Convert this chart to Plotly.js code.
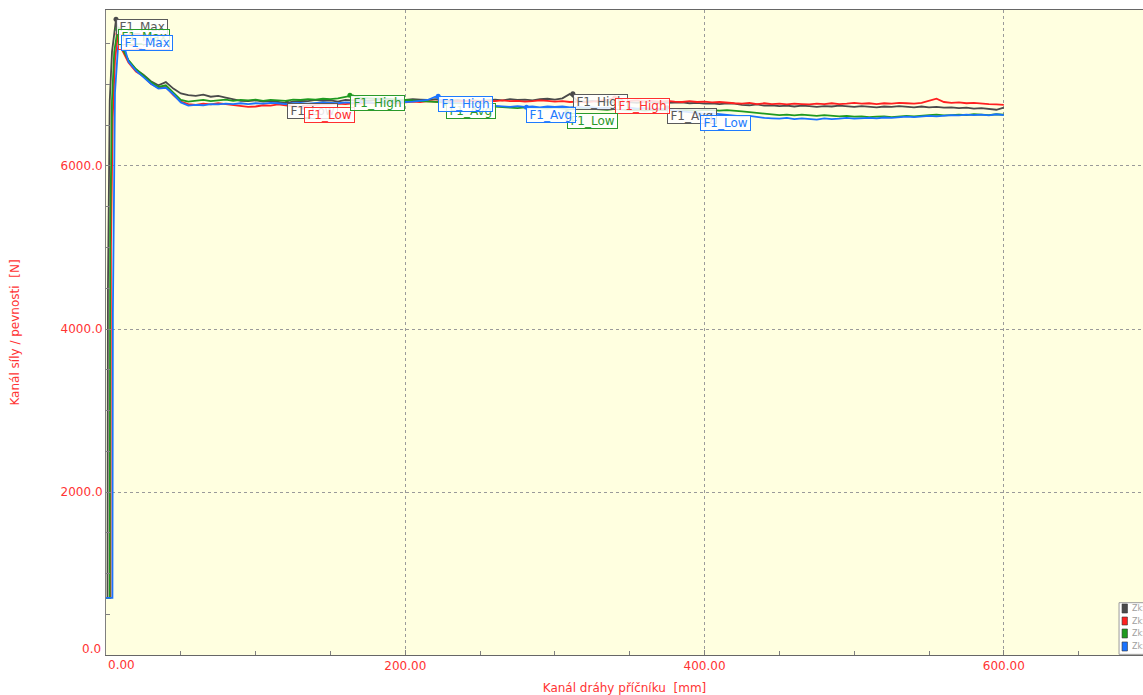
<!DOCTYPE html>
<html>
<head>
<meta charset="utf-8">
<script src="https://cdn.plot.ly/plotly-3.0.1.min.js"></script>
<style>
html,body{margin:0;padding:0;background:#fff;overflow:hidden;}
#chart{width:1143px;height:695px;}
</style>
</head>
<body>
<div id="chart"></div>
<script>
// ---- data ----
const xTicks = [0, 200, 400, 600];
const xTickText = ['', '200.00', '400.00', '600.00'];
const yTicks = [0, 2000, 4000, 6000];
const yTickText = ['', '2000.0', '4000.0', '6000.0'];

const xTail = [10,15,20,25,30,35,40,45,50,55,60,65,70,75,80,85,90,95,100,105,110,115,120,125,130,135,140,145,150,155,160,165,170,175,180,185,190,195,200,205,210,215,220,225,230,235,240,245,250,255,260,265,270,275,280,285,290,295,300,305,310,315,320,325,330,335,340,345,350,355,360,365,370,375,380,385,390,395,400,405,410,415,420,425,430,435,440,445,450,455,460,465,470,475,480,485,490,495,500,505,510,515,520,525,530,535,540,545,550,555,560,565,570,575,580,585,590,595,600];

const grayHeadX = [0, 1.0, 1.3, 2.5, 4.0, 6.7];
const grayHeadY = [700, 700, 4500, 6800, 7400, 7800];
const grayTail = [
7480,7290,7180,7120,7040,6990,7030,6950,6890,6870,
6860,6875,6850,6860,6840,6820,6800,6795,6805,6790,
6800,6785,6770,6790,6800,6795,6810,6800,6805,6790,
6810,6805,6815,6800,6810,6820,6805,6815,6810,6820,
6815,6810,6820,6805,6800,6810,6795,6805,6800,6810,
6815,6805,6820,6810,6815,6805,6820,6825,6815,6830,
6885,6800,6790,6800,6785,6790,6780,6790,6785,6775,
6790,6780,6770,6775,6775,6780,6770,6775,6765,6770,
6760,6770,6765,6750,6745,6755,6740,6745,6735,6740,
6730,6740,6735,6725,6735,6730,6740,6730,6725,6735,
6730,6720,6730,6725,6735,6725,6720,6730,6720,6725,
6715,6720,6710,6715,6705,6710,6700,6690,6715];

const redHeadX = [0, 3.0, 3.3, 4.5, 6.0, 8.0];
const redHeadY = [700, 700, 5000, 6600, 7300, 7620];
const redTail = [
7450,7270,7160,7100,7010,6960,6970,6870,6790,6760,
6750,6765,6755,6770,6760,6750,6740,6725,6730,6745,
6740,6755,6745,6735,6720,6740,6750,6760,6755,6765,
6760,6770,6765,6775,6770,6780,6775,6770,6780,6790,
6785,6795,6790,6795,6785,6790,6800,6795,6790,6800,
6795,6805,6795,6800,6790,6795,6805,6800,6790,6795,
6785,6790,6780,6790,6800,6810,6835,6810,6800,6805,
6795,6800,6790,6800,6790,6785,6795,6785,6790,6780,
6785,6775,6770,6765,6775,6760,6770,6760,6765,6755,
6765,6760,6755,6765,6760,6770,6760,6765,6775,6765,
6770,6760,6770,6765,6775,6770,6765,6775,6800,6825,
6785,6775,6780,6770,6775,6765,6760,6755,6750];

const greenHeadX = [0, 2.5, 2.8, 4.0, 5.5, 7.8];
const greenHeadY = [700, 700, 5200, 6800, 7400, 7680];
const greenTail = [
7470,7300,7190,7110,7030,6970,6990,6900,6810,6790,
6800,6810,6795,6805,6815,6800,6810,6805,6815,6800,
6810,6805,6800,6815,6810,6820,6815,6825,6820,6830,
6845,6865,6835,6830,6825,6830,6820,6815,6810,6805,
6800,6795,6790,6780,6770,6765,6760,6755,6745,6740,
6730,6720,6715,6710,6720,6715,6710,6705,6715,6705,
6695,6700,6710,6700,6695,6690,6700,6690,6685,6690,
6680,6690,6685,6690,6680,6690,6685,6680,6690,6685,
6680,6685,6680,6670,6660,6650,6640,6635,6625,6630,
6620,6630,6625,6615,6625,6620,6610,6615,6605,6610,
6600,6605,6610,6600,6605,6615,6610,6620,6625,6630,
6620,6625,6630,6625,6635,6630,6625,6635,6630];

const blueHeadX = [0, 4.3, 4.6, 6.0, 8.0];
const blueHeadY = [700, 700, 4200, 6900, 7450];
const blueTail = [
7610,7280,7170,7090,7010,6950,6960,6880,6780,6740,
6750,6745,6760,6755,6765,6760,6770,6760,6770,6765,
6775,6770,6760,6770,6775,6765,6770,6780,6775,6770,
6780,6775,6785,6780,6775,6785,6780,6790,6785,6790,
6800,6810,6850,6790,6780,6775,6765,6760,6750,6745,
6735,6730,6725,6735,6725,6730,6720,6730,6725,6730,
6720,6725,6715,6720,6710,6715,6710,6705,6715,6705,
6710,6700,6705,6690,6680,6670,6660,6650,6640,6645,
6635,6630,6620,6610,6615,6600,6590,6585,6580,6590,
6575,6585,6580,6570,6585,6575,6580,6590,6580,6585,
6590,6585,6595,6590,6600,6605,6600,6610,6615,6610,
6620,6625,6620,6630,6625,6630,6620,6635,6625];

// marked points (F1 labels) per series
const grayMarkX = [6.7, 121, 312, 375];
const grayMarkY = [7800, 6770, 6885, 6715];
const grayMarkT = ['F1_Max', 'F1_Low', 'F1_High', 'F1_Avg'];
const redMarkX = [8.0, 132, 340];
const redMarkY = [7620, 6720, 6835];
const redMarkT = ['F1_Max', 'F1_Low', 'F1_High'];
const greenMarkX = [7.8, 163, 227, 308];
const greenMarkY = [7680, 6868, 6770, 6655];
const greenMarkT = ['F1_Max', 'F1_High', 'F1_Avg', 'F1_Low'];
const blueMarkX = [10, 222, 281, 397];
const blueMarkY = [7612, 6855, 6722, 6630];
const blueMarkT = ['F1_Max', 'F1_High', 'F1_Avg', 'F1_Low'];

const legendNames = ['Zk: 1', 'Zk: 2', 'Zk: 3', 'Zk: 4'];

// ---- styling ----
const FONT = 'DejaVu Sans, Verdana, sans-serif';
const RED_TXT = '#ff3333';
const series = [
  {name: legendNames[0], hx: grayHeadX, hy: grayHeadY, ty: grayTail, line: '#4a4a4a', txt: '#5a5a5a', mx: grayMarkX, my: grayMarkY, mt: grayMarkT},
  {name: legendNames[1], hx: redHeadX, hy: redHeadY, ty: redTail, line: '#ff2020', txt: '#ff3030', mx: redMarkX, my: redMarkY, mt: redMarkT},
  {name: legendNames[2], hx: greenHeadX, hy: greenHeadY, ty: greenTail, line: '#1f9a1f', txt: '#2a9a2a', mx: greenMarkX, my: greenMarkY, mt: greenMarkT},
  {name: legendNames[3], hx: blueHeadX, hy: blueHeadY, ty: blueTail, line: '#1a73ff', txt: '#1e7bff', mx: blueMarkX, my: blueMarkY, mt: blueMarkT}
];

const traces = [];
const annotations = [];
series.forEach(s => {
  traces.push({
    type: 'scatter', mode: 'lines', name: s.name,
    x: s.hx.concat(xTail), y: s.hy.concat(s.ty),
    line: {color: s.line, width: 1.8}, hoverinfo: 'skip'
  });
  traces.push({
    type: 'scatter', mode: 'markers', showlegend: false,
    x: s.mx, y: s.my, marker: {color: s.line, size: 5}, hoverinfo: 'skip'
  });
});
series.forEach(s => {
  s.mx.forEach((xv, i) => {
    annotations.push({
      x: xv, y: s.my[i], xref: 'x', yref: 'y',
      text: '\u2009' + s.mt[i] + '\u2009', showarrow: false,
      xanchor: 'left', yanchor: 'top',
      font: {family: FONT, size: 12, color: s.txt},
      bgcolor: 'rgba(255,255,255,0.85)', bordercolor: s.txt, borderwidth: 1, borderpad: 0
    });
  });
});

// zero labels (shifted inside like the reference)
annotations.push({x: 0, y: 0, xref: 'x', yref: 'paper', text: '0.00', showarrow: false,
  xanchor: 'left', yanchor: 'top', yshift: -1, xshift: 0, font: {family: FONT, size: 12, color: RED_TXT}});
annotations.push({x: 0, y: 0, xref: 'paper', yref: 'paper', text: '0.0', showarrow: false,
  xanchor: 'right', yanchor: 'bottom', xshift: -3, yshift: -3, font: {family: FONT, size: 12, color: RED_TXT}});

// legend box at bottom right (clipped by the picture edge)
const shapes = [{type: 'rect', xref: 'paper', yref: 'paper', x0: 0.9769, x1: 1.06, y0: 0.001, y1: 0.0811,
  fillcolor: '#ffffff', line: {color: '#9a9a9a', width: 1}, layer: 'above'}];
const legRows = [[0.0791, 0.0651], [0.0589, 0.0465], [0.0403, 0.0264], [0.0202, 0.0062]];
series.forEach((s, i) => {
  shapes.push({type: 'rect', xref: 'paper', yref: 'paper', x0: 0.9798, x1: 0.9850,
    y0: legRows[i][1], y1: legRows[i][0], fillcolor: s.line, line: {color: '#333', width: 0.6}, layer: 'above'});
  annotations.push({x: 0.9870, y: (legRows[i][0] + legRows[i][1]) / 2, xref: 'paper', yref: 'paper',
    text: s.name, showarrow: false, xanchor: 'left', yanchor: 'middle',
    font: {family: FONT, size: 8, color: '#a0a0a0'}});
});

const layout = {
  width: 1143, height: 695,
  margin: {l: 106, r: 0, t: 10, b: 40},
  paper_bgcolor: '#ffffff', plot_bgcolor: '#ffffe0',
  showlegend: false,
  font: {family: FONT, size: 12, color: RED_TXT},
  xaxis: {
    range: [0, 693], tickvals: xTicks, ticktext: xTickText,
    ticks: 'inside', ticklen: 5, tickcolor: '#808080',
    showline: true, linecolor: '#666666', linewidth: 1, mirror: true,
    showgrid: true, gridcolor: '#9a9a9a', griddash: '3px,3px', gridwidth: 1,
    zeroline: false,
    minor: {dtick: 50, tick0: 0, ticks: 'inside', ticklen: 4, tickcolor: '#808080', showgrid: false},
    tickfont: {family: FONT, size: 12, color: RED_TXT},
    title: {text: 'Kanál dráhy příčníku \u00a0[mm]', font: {family: FONT, size: 12, color: RED_TXT}, standoff: 12}
  },
  yaxis: {
    range: [0, 7914], tickvals: yTicks, ticktext: yTickText,
    ticks: 'inside', ticklen: 5, tickcolor: '#808080',
    showline: true, linecolor: '#808080', linewidth: 1,
    showgrid: true, gridcolor: '#9a9a9a', griddash: '3px,3px', gridwidth: 1,
    zeroline: false,
    minor: {dtick: 500, tick0: 0, ticks: 'inside', ticklen: 4, tickcolor: '#808080', showgrid: false},
    tickfont: {family: FONT, size: 12, color: RED_TXT},
    title: {text: 'Kanál síly / pevnosti \u00a0[N]', font: {family: FONT, size: 12, color: RED_TXT}, standoff: 38}
  },
  annotations: annotations,
  shapes: shapes
};

Plotly.newPlot('chart', traces, layout, {displayModeBar: false, staticPlot: true});
</script>
</body>
</html>
